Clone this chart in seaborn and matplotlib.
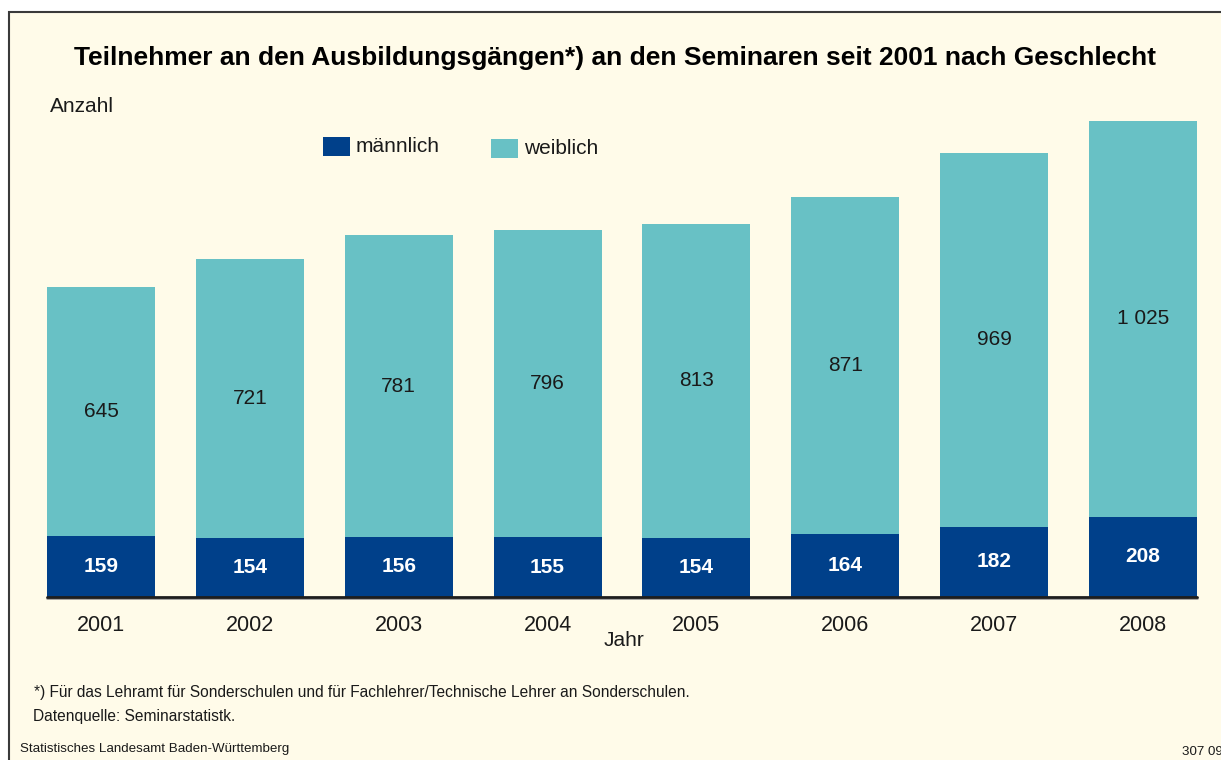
import matplotlib
matplotlib.use("Agg")
import matplotlib.pyplot as plt
from matplotlib.patches import Rectangle
import seaborn as sns
import pandas as pd

# Participants per year, by gender
jahre = ["2001", "2002", "2003", "2004", "2005", "2006", "2007", "2008"]
maennlich = [159, 154, 156, 155, 154, 164, 182, 208]
weiblich = [645, 721, 781, 796, 813, 871, 969, 1025]

male_color = "#00408A"
female_color = "#68C1C5"
bg_color = "#FFFBE9"
text_color = "#1A1A1A"

sns.set_theme(style="white")
plt.rcParams["font.family"] = ["Liberation Sans", "DejaVu Sans"]

W, H = 1221, 760
fig = plt.figure(figsize=(W / 100, H / 100), dpi=100)
fig.patch.set_facecolor("white")

# Framed panel
fig.patches.append(Rectangle((9 / W, -0.1), 1.2, 1 - 12 / H + 0.1,
                             transform=fig.transFigure, facecolor=bg_color,
                             edgecolor="#3A3A3A", linewidth=1.5, zorder=-5))

df = pd.DataFrame({
    "Jahr": jahre,
    "männlich": maennlich,
    "weiblich": weiblich,
})
df["gesamt"] = df["männlich"] + df["weiblich"]

ymax = 1290
left, right = 47 / W, 1197 / W
bottom, top = 1 - 597 / H, 1 - (597 - ymax * 0.386) / H
ax = fig.add_axes([left, bottom, right - left, top - bottom])
ax.set_zorder(2)
ax.set_facecolor("none")

bw = 0.726
sns.barplot(data=df, x="Jahr", y="gesamt", color=female_color, width=bw,
            saturation=1, ax=ax, edgecolor="none", linewidth=0)
sns.barplot(data=df, x="Jahr", y="männlich", color=male_color, width=bw,
            saturation=1, ax=ax, edgecolor="none", linewidth=0)

ax.set_xlim(-bw / 2, len(jahre) - 1 + bw / 2)
ax.set_ylim(0, ymax)
for s in ax.spines.values():
    s.set_visible(False)
ax.set_yticks([])
ax.set_xlabel("")
ax.set_ylabel("")
ax.tick_params(axis="x", length=0, pad=13, labelsize=15.5, labelcolor=text_color)

# baseline with a slight shadow
ax.axhline(-2.2, color="#9A9A9A", linewidth=2, zorder=3, clip_on=False)
ax.axhline(0, color="#1E1E1E", linewidth=2, zorder=4, clip_on=False)

for i, (m, w) in enumerate(zip(maennlich, weiblich)):
    ax.text(i, m / 2, f"{m}", ha="center", va="center", color="white",
            fontsize=15, fontweight="bold", zorder=5)
    wl = f"{w:,}".replace(",", " ")
    ax.text(i, m + w / 2, wl, ha="center", va="center", color=text_color,
            fontsize=15, zorder=5)

fig.text(615 / W, 1 - 58 / H,
         "Teilnehmer an den Ausbildungsgängen*) an den Seminaren seit 2001 nach Geschlecht",
         ha="center", va="center", fontsize=19, fontweight="bold", color="black")
fig.text(50 / W, 1 - 106 / H, "Anzahl", ha="left", va="center",
         fontsize=15, color=text_color)
fig.text(624 / W, 1 - 641 / H, "Jahr", ha="center", va="center",
         fontsize=15, color=text_color)

# legend
for x0, y0, lab, col in [(323, 137, "männlich", male_color),
                         (491, 139, "weiblich", female_color)]:
    fig.patches.append(Rectangle((x0 / W, 1 - (y0 + 19) / H), 27 / W, 19 / H,
                                 transform=fig.transFigure, facecolor=col,
                                 edgecolor="none", zorder=2))
    fig.text((x0 + 33) / W, 1 - (y0 + 10) / H, lab, ha="left", va="center",
             fontsize=15, color=text_color)

fig.text(34 / W, 1 - 692 / H,
         "*) Für das Lehramt für Sonderschulen und für Fachlehrer/Technische Lehrer an Sonderschulen.",
         ha="left", va="center", fontsize=11.2, color=text_color)
fig.text(33 / W, 1 - 716 / H, "Datenquelle: Seminarstatistk.",
         ha="left", va="center", fontsize=11.2, color=text_color)
fig.text(20 / W, 1 - 749 / H, "Statistisches Landesamt Baden-Württemberg",
         ha="left", va="center", fontsize=9.6, color=text_color)
fig.text(1182 / W, 1 - 752 / H, "307 09", ha="left", va="center",
         fontsize=9.6, color=text_color)

fig.savefig("out.png", dpi=100, facecolor=fig.get_facecolor())
